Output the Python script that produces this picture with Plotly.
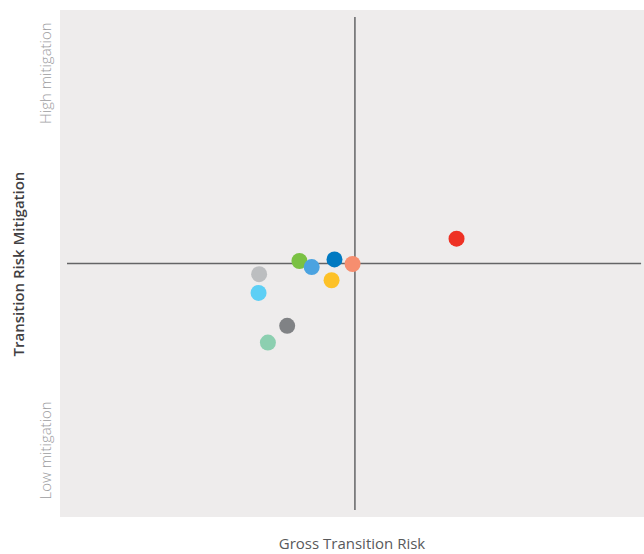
import plotly.graph_objects as go

# gross transition risk (x) vs transition risk mitigation (y), centred on 0
gross_risk = [1.74, -0.95, -0.74, -0.35, -0.04, -0.40, -1.64, -1.65, -1.16, -1.49]
mitigation = [0.49, 0.05, -0.07, 0.08, -0.01, -0.33, -0.21, -0.58, -1.23, -1.56]
colors = ["#ee3124", "#7ac143", "#4ba3e0", "#0079c1", "#f68e6f",
          "#fdc127", "#bcbec0", "#5dcff5", "#808285", "#8ccfb0"]

y_tickvals = [3.71, -3.73]
y_ticktext = ["High mitigation", "Low mitigation"]

fig = go.Figure()

fig.add_trace(go.Scatter(
    x=gross_risk, y=mitigation, mode="markers",
    marker=dict(size=16, color=colors, line=dict(width=0)),
    hoverinfo="skip", showlegend=False,
))

# quadrant cross
fig.add_shape(type="line", x0=0, x1=0, y0=-4.86, y1=4.86, xref="x", yref="y",
              line=dict(color="#646466", width=1.5), layer="below")
fig.add_shape(type="line", x0=-4.93, x1=4.90, y0=0, y1=0, xref="x", yref="y",
              line=dict(color="#646466", width=1.5), layer="below")

fig.update_layout(
    width=644, height=554,
    margin=dict(l=60, r=0, t=10, b=37),
    paper_bgcolor="white",
    plot_bgcolor="#eeecec",
    font=dict(family="Open Sans", color="#58595b"),
    xaxis=dict(range=[-5.05, 4.95], showgrid=False, zeroline=False,
               showticklabels=False, fixedrange=True,
               title=dict(text="Gross Transition Risk", standoff=21,
                          font=dict(size=15, color="#58595b"))),
    yaxis=dict(range=[-5, 5], showgrid=False, zeroline=False,
               tickvals=y_tickvals, ticktext=y_ticktext, tickangle=-90,
               ticks="", ticklabelstandoff=5,
               tickfont=dict(size=15, color="#9d9d9f", weight=300),
               fixedrange=True),
    annotations=[dict(text="Transition Risk Mitigation", textangle=-90,
                      xref="paper", yref="paper", x=-0.072, y=0.5,
                      xanchor="center", yanchor="middle", showarrow=False,
                      font=dict(size=15, color="#414042", weight=600))],
)

fig.write_html("out.html", config={"displayModeBar": False},
               post_script="document.body.style.margin='0';")
